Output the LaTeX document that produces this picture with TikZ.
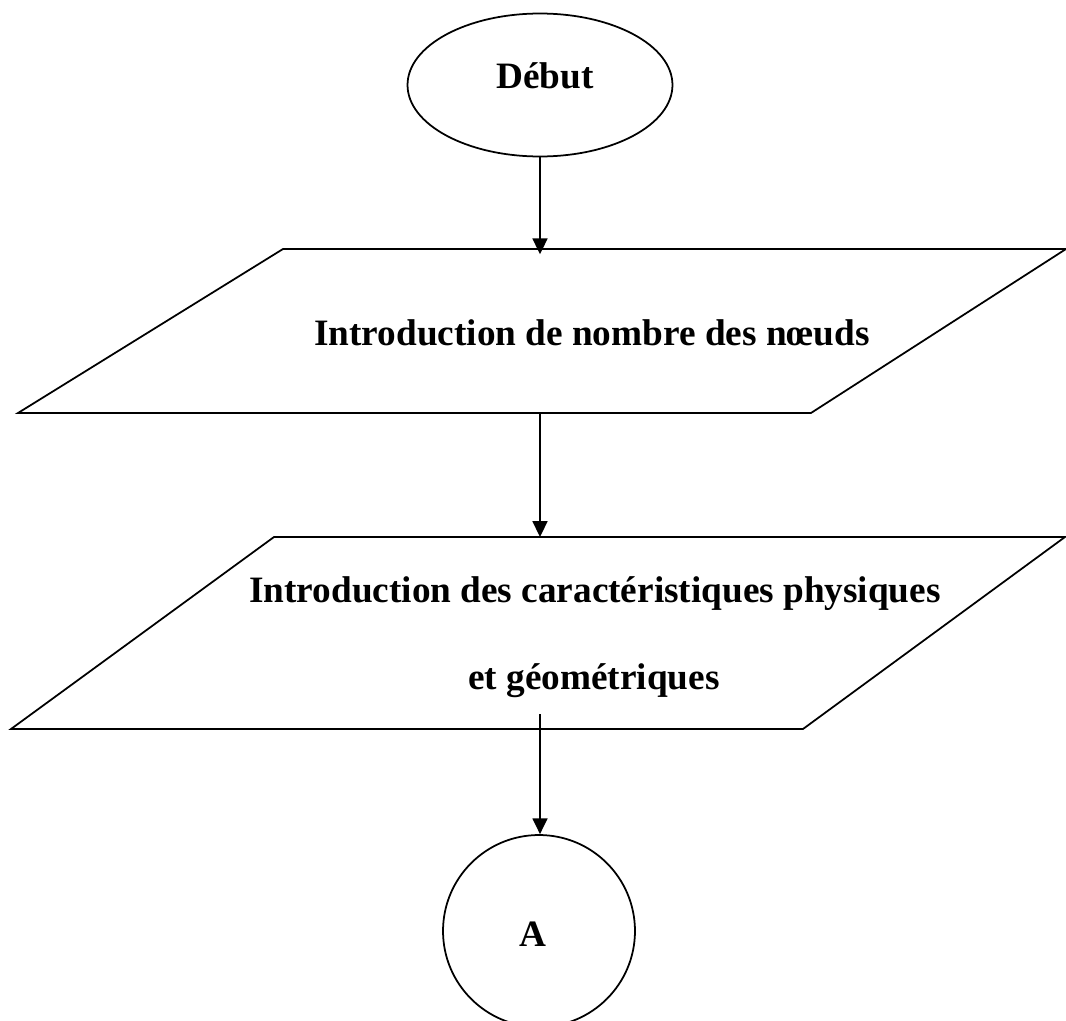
\documentclass[tikz,border=0pt]{standalone}
\usepackage{fontspec}
\setmainfont{Liberation Serif}
\usetikzlibrary{arrows.meta,positioning,shapes.geometric}
\tikzset{
  startbox/.style={
    ellipse, draw=black, line width=1pt,
    minimum width=5.3cm, minimum height=2.86cm,
    inner sep=0pt
  },
  iobox/.style={
    draw=black, line width=1pt, line join=miter
  },
  connbox/.style={
    circle, draw=black, line width=1pt,
    minimum size=3.84cm, inner sep=0pt
  },
  labeltext/.style={
    font=\bfseries\fontsize{21.2}{25}\selectfont,
    anchor=base, inner sep=0pt
  },
  flowarrow/.style={
    -{Triangle[length=9pt, width=8.5pt]}, line width=1pt, color=black
  },
}

\begin{document}
\begin{tikzpicture}[x=0.02cm, y=-0.02cm]
  \useasboundingbox (0,0) rectangle (1066,1021);
  % shapes
  \node[startbox] (debut) at (540,85) {};
  \draw[iobox] (283,249) -- (1066,249) -- (811,413) -- (18,413) -- cycle;
  \draw[iobox] (274,537) -- (1065,537) -- (803,729) -- (11,729) -- cycle;
  \node[connbox] (A) at (539,931) {};
  \coordinate (nodestop) at (540,249);
  \coordinate (nodesbot) at (540,413);
  \coordinate (caractop) at (540,537);
  \coordinate (geoend) at (540,714);
  % texts
  \node[labeltext] (debuttxt) at (545,88) {Début};
  \node[labeltext] (nodestxt) at (592,345) {Introduction de nombre des nœuds};
  \node[labeltext] (caractxt) at (595,602) {Introduction des caractéristiques physiques};
  \node[labeltext] (geotxt) at (594,689) {et géométriques};
  \node[labeltext] (Atxt) at (533,946) {A};
  % arrows
  \draw[flowarrow] (debut.south) -- ([yshift=-3pt]nodestop);
  \draw[flowarrow] (nodesbot) -- (caractop);
  \draw[flowarrow] (geoend) -- (geoend |- A.north);
\end{tikzpicture}
\end{document}
